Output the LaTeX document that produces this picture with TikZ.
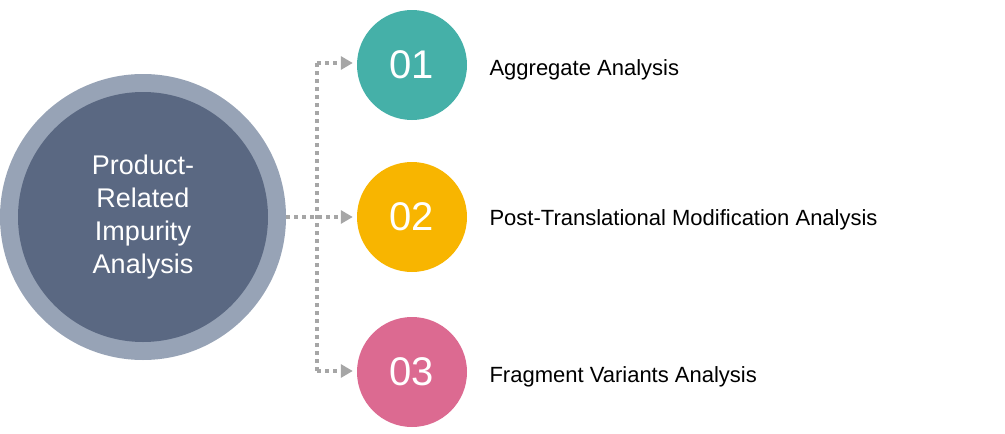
\documentclass[tikz,border=0pt]{standalone}
\usepackage{fontspec}
\setmainfont{Liberation Sans}
\usetikzlibrary{arrows.meta}
\definecolor{ring}{HTML}{97A3B6}
\definecolor{core}{HTML}{5A6882}
\definecolor{cA}{HTML}{45B0A8}
\definecolor{cB}{HTML}{F8B500}
\definecolor{cC}{HTML}{DC6A91}
\definecolor{conn}{HTML}{A6A6A6}
\tikzset{
 num/.style={circle,minimum size=110pt,inner sep=0pt,text=white,font=\fontsize{40}{40}\selectfont},
 lab/.style={anchor=west,font=\fontsize{22}{24}\selectfont},
 con/.style={draw=conn,line width=4pt,dash pattern=on 4pt off 4pt,-{Triangle[length=12pt,width=13pt,fill=conn]}}
}
\begin{document}
\begin{tikzpicture}[x=1pt,y=-1pt]
\useasboundingbox (0,0) rectangle (1005,434);
\node[circle,fill=ring,minimum size=286pt,inner sep=0pt] (big) at (143,217) {};
\node[circle,fill=core,minimum size=250pt,inner sep=0pt,text=white,align=center,font=\fontsize{27}{33}\selectfont] (core) at (143,217) {Product-\\Related\\Impurity\\Analysis};
\node[num,fill=cA] (n1) at (412,65) {01};
\node[num,fill=cB] (n2) at (412,217) {02};
\node[num,fill=cC] (n3) at (412,372) {03};
\node[lab] (t1) at (486,70) {Aggregate Analysis};
\node[lab] (t2) at (486,220) {Post-Translational Modification Analysis};
\node[lab] (t3) at (486,377) {Fragment Variants Analysis};
\coordinate (s) at (286,217);
\coordinate (j1) at (317,63);
\coordinate (j3) at (317,371);
\draw[con,-] (j1) -- (j3);
\draw[con] (j1) -- ([xshift=-4pt]n1.west|-j1);
\draw[con] (s) -- ([xshift=-4pt]n2.west);
\draw[con] (j3) -- ([xshift=-4pt]n3.west|-j3);
\end{tikzpicture}
\end{document}
